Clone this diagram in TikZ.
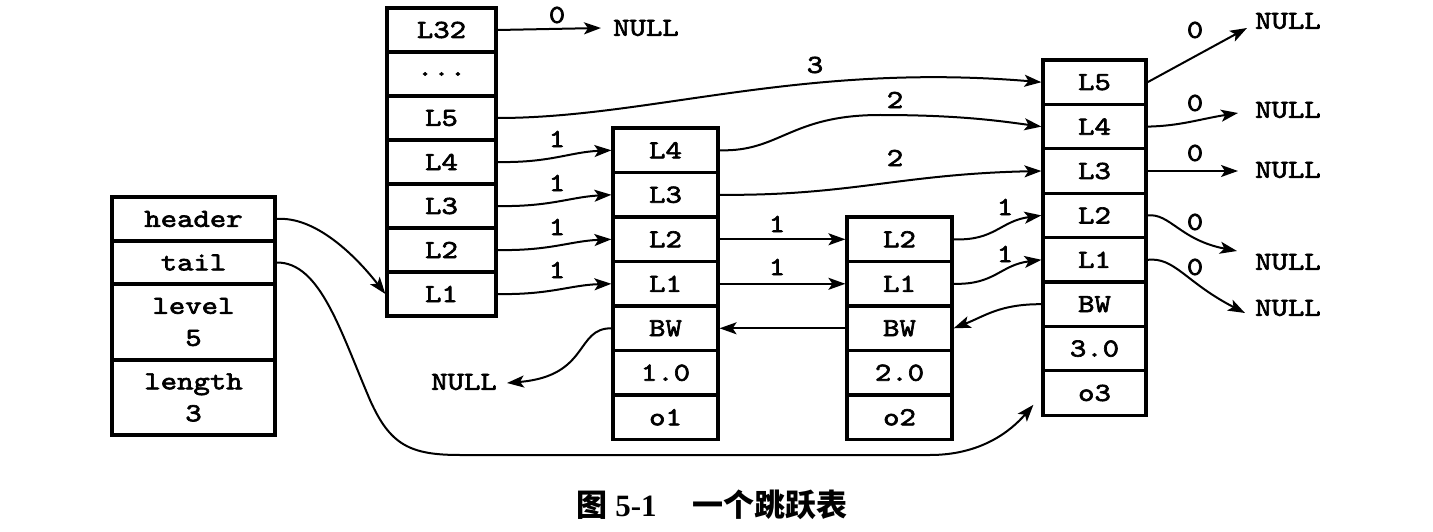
\documentclass[tikz,border=0pt]{standalone}
\usepackage{fontspec}
\newfontfamily\cour{lmmono10-regular}[Extension=.otf,FakeStretch=1.2,FakeBold=2.5]
\setmainfont{Liberation Serif}
\newfontfamily\cjk{Noto Sans CJK SC}
\usetikzlibrary{arrows.meta,calc}
\begin{document}
\begin{tikzpicture}[x=1pt,y=-1pt,
  txt/.style={font=\cour\fontsize{26}{32}\selectfont},
  cell/.style={draw,line width=3.2pt,inner sep=0pt,txt,align=center},
  hcol/.style={cell,minimum width=109pt,minimum height=44pt},
  acol/.style={cell,minimum width=105pt,minimum height=44.5pt},
  ccol/.style={cell,minimum width=103pt,minimum height=44.4pt},
  scol/.style={cell,minimum width=163pt},
  lab/.style={txt,inner sep=0pt},
  nul/.style={txt,inner sep=0pt},
  conn/.style={line width=2pt,-{Stealth[length=17pt,width=12pt,inset=4pt]}}]
\useasboundingbox (0,0) rectangle (1433,532);

% list structure
\node[scol,minimum height=44pt] (sHead) at (193.5,219) {header};
\node[scol,minimum height=43pt] (sTail) at (193.5,262.5) {tail};
\node[scol,minimum height=76pt] (sLevel) at (193.5,322) {level\\5};
\node[scol,minimum height=75pt] (sLength) at (193.5,397.5) {length\\3};

% header node
\node[hcol] (hL32) at (441.5,30) {L32};
\node[hcol] (hdots) at (441.5,74) {...};
\node[hcol] (hL5) at (441.5,118) {L5};
\node[hcol] (hL4) at (441.5,162) {L4};
\node[hcol] (hL3) at (441.5,206) {L3};
\node[hcol] (hL2) at (441.5,250) {L2};
\node[hcol] (hL1) at (441.5,294) {L1};

% node o1
\node[acol] (aL4) at (665.5,150.3) {L4};
\node[acol] (aL3) at (665.5,194.8) {L3};
\node[acol] (aL2) at (665.5,239.3) {L2};
\node[acol] (aL1) at (665.5,283.8) {L1};
\node[acol] (aBW) at (665.5,328.3) {BW};
\node[acol] (aS) at (665.5,372.8) {1.0};
\node[acol] (aO) at (665.5,417.3) {o1};

% node o2
\node[acol] (bL2) at (899.5,239.3) {L2};
\node[acol] (bL1) at (899.5,283.8) {L1};
\node[acol] (bBW) at (899.5,328.3) {BW};
\node[acol] (bS) at (899.5,372.8) {2.0};
\node[acol] (bO) at (899.5,417.3) {o2};

% node o3
\node[ccol] (cL5) at (1094.5,82.2) {L5};
\node[ccol] (cL4) at (1094.5,126.6) {L4};
\node[ccol] (cL3) at (1094.5,171) {L3};
\node[ccol] (cL2) at (1094.5,215.4) {L2};
\node[ccol] (cL1) at (1094.5,259.8) {L1};
\node[ccol] (cBW) at (1094.5,304.2) {BW};
\node[ccol] (cS) at (1094.5,348.6) {3.0};
\node[ccol] (cO) at (1094.5,393) {o3};

% NULL nodes
\node[nul,anchor=west] (nA) at (613,28) {NULL};
\node[nul,anchor=east] (nB) at (497,382) {NULL};
\node[nul,anchor=west] (nr5) at (1255,21) {NULL};
\node[nul,anchor=west] (nr4) at (1255,110) {NULL};
\node[nul,anchor=west] (nr3) at (1255,170) {NULL};
\node[nul,anchor=west] (nr2) at (1255,262) {NULL};
\node[nul,anchor=west] (nr1) at (1255,308) {NULL};

% span labels
\node[lab] (t1) at (557,15) {0};
\node[lab] (t2) at (815,65) {3};
\node[lab] (t3) at (895,100) {2};
\node[lab] (t4) at (895,158) {2};
\node[lab] (t5) at (557,139) {1};
\node[lab] (t6) at (557,183) {1};
\node[lab] (t7) at (557,227) {1};
\node[lab] (t8) at (557,270) {1};
\node[lab] (t9) at (777,224) {1};
\node[lab] (t10) at (777,267) {1};
\node[lab] (t11) at (1005,207) {1};
\node[lab] (t12) at (1005,254) {1};
\node[lab] (t13) at (1195,30) {0};
\node[lab] (t14) at (1195,103) {0};
\node[lab] (t15) at (1195,153) {0};
\node[lab] (t16) at (1195,222) {0};
\node[lab] (t17) at (1195,267) {0};

% connectors from header node
\draw[conn] (hL32.east) -- ($(nA.west)+(-12,0)$);
\draw[conn] (hL5.east) .. controls (650,118) and (800,62) .. (cL5.west);
\draw[conn] (hL4.east) .. controls (550,163) and (570,152) .. (aL4.west);
\draw[conn] (hL3.east) .. controls (550,207) and (570,197) .. (aL3.west);
\draw[conn] (hL2.east) .. controls (550,251) and (570,241) .. (aL2.west);
\draw[conn] (hL1.east) .. controls (550,295) and (570,285) .. (aL1.west);

% from o1
\draw[conn] (aL4.east) .. controls (780,152) and (790,115) .. (880,115) .. controls (960,115) and (1000,121) .. (cL4.west);
\draw[conn] (aL3.east) .. controls (850,196) and (900,174) .. (cL3.west);
\draw[conn] (aL2.east) -- (bL2.west);
\draw[conn] (aL1.east) -- (bL1.west);
\draw[conn] (aBW.west) .. controls (575,328) and (590,376) .. ($(nB.east)+(10,1)$);

% from o2
\draw[conn] (bL2.east) .. controls (995,241) and (1000,221) .. (cL2.west);
\draw[conn] (bL1.east) .. controls (995,285) and (1000,265) .. (cL1.west);
\draw[conn] (bBW.west) -- (aBW.east);

% from o3
\draw[conn] (cBW.west) .. controls (1000,304) and (985,316) .. (bBW.east);
\draw[conn] (cL5.east) -- ($(nr5.west)+(-8,7)$);
\draw[conn] (cL4.east) .. controls (1180,126) and (1200,119) .. ($(nr4.west)+(-17,3)$);
\draw[conn] (cL3.east) -- ($(nr3.west)+(-17,1)$);
\draw[conn] (cL2.east) .. controls (1170,213) and (1180,240) .. ($(nr2.west)+(-18,-11)$);
\draw[conn] (cL1.east) .. controls (1175,257) and (1185,282) .. ($(nr1.west)+(-10,5)$);

% from list structure
\draw[conn] (sHead.east) .. controls (315,216) and (355,255) .. (hL1.west);
\draw[conn] (sTail.east) .. controls (320,262) and (340,330) .. (370,400)
  .. controls (390,445) and (410,455) .. (460,455) -- (930,455)
  .. controls (980,455) and (1010,432) .. ($(cO.south west)+(-8,-12)$);

% caption
\node (cap) at (712,505) {\fontsize{31}{34}\selectfont\bfseries\cjk 图\hspace{8pt}\rmfamily 5-1\hspace{36pt}\cjk 一个跳跃表};
\end{tikzpicture}
\end{document}
